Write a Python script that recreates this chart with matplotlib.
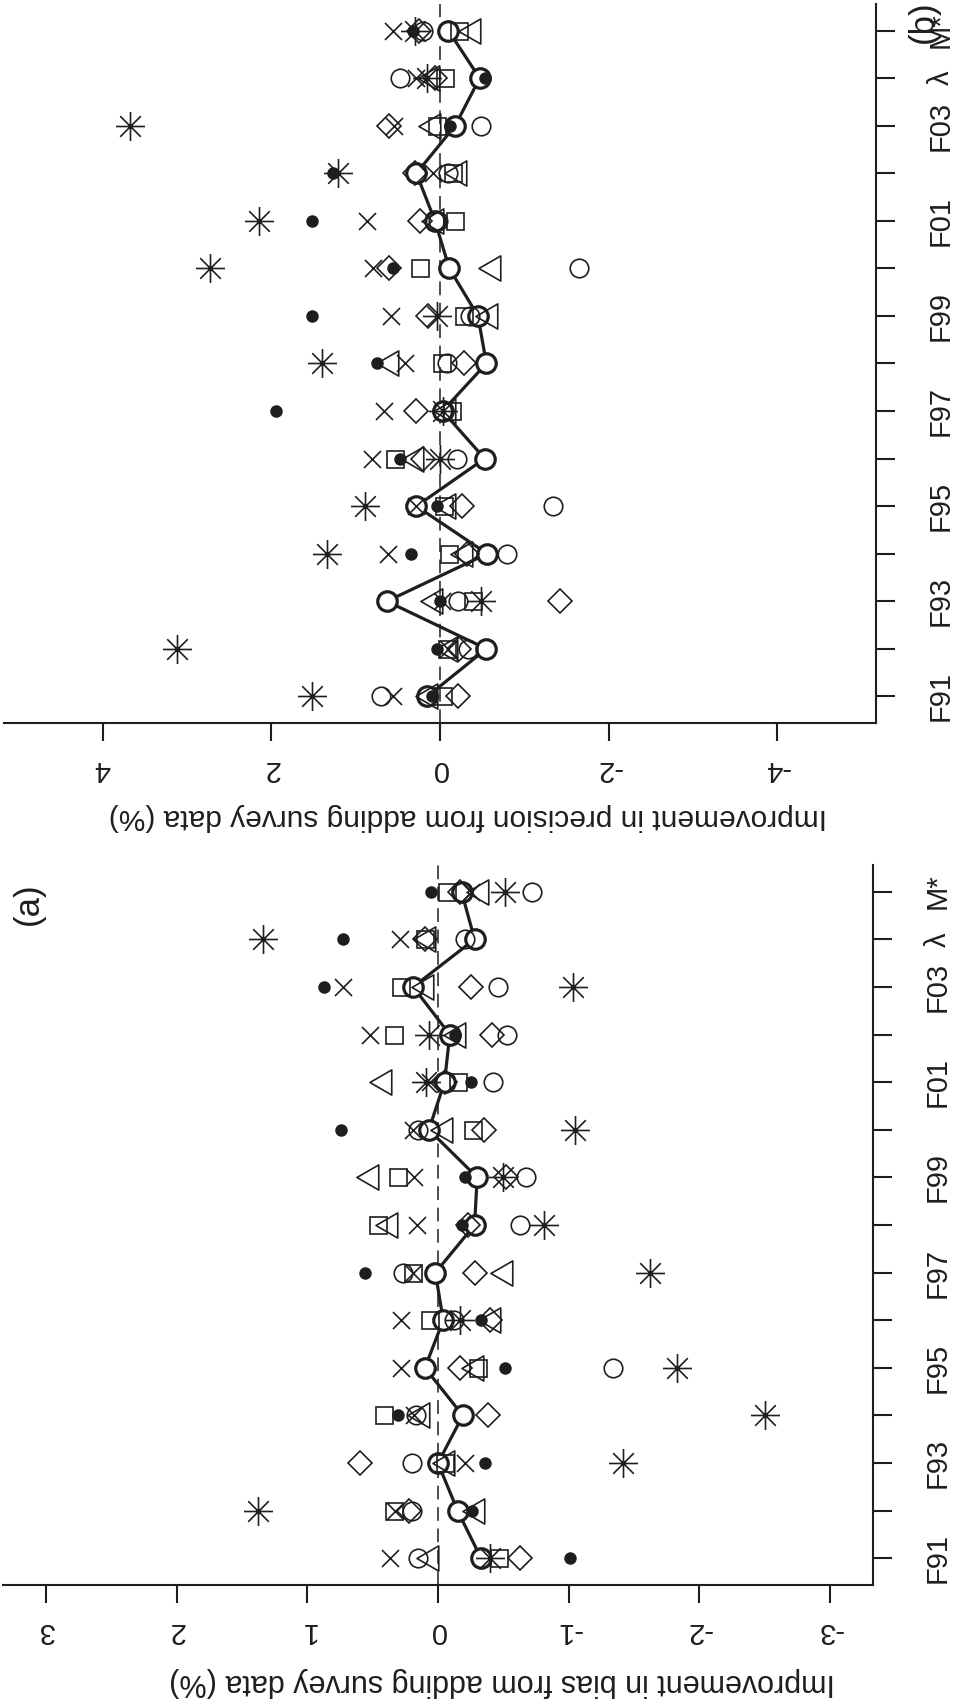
import matplotlib
matplotlib.use("Agg")
import matplotlib.pyplot as plt
from matplotlib.path import Path

plt.rcParams['font.family'] = ['Liberation Sans', 'DejaVu Sans']

# ---- data -------------------------------------------------------------
categories = ["F91", "F92", "F93", "F94", "F95", "F96", "F97", "F98",
              "F99", "F00", "F01", "F02", "F03", "λ", "M*"]
labelled = ["F91", "F93", "F95", "F97", "F99", "F01", "F03", "λ", "M*"]

bias_ticks = [3, 2, 1, 0, -1, -2, -3]
bias_tick_labels = ["3", "2", "1", "0", "-1", "-2", "-3"]
prec_ticks = [4, 2, 0, -2, -4]
prec_tick_labels = ["4", "2", "0", "-2", "-4"]

# (a) improvement in bias (%)
bias_main = [-0.33, -0.15, 0.00, -0.19, 0.10, -0.04, 0.02, -0.28, -0.30, 0.07, -0.05, -0.09, 0.19, -0.28, -0.18]
bias_circle = [0.15, 0.20, 0.20, 0.17, -1.34, -0.12, 0.27, -0.63, -0.67, 0.15, -0.42, -0.53, -0.46, -0.21, -0.72]
bias_dot = [-1.01, -0.26, -0.36, 0.31, -0.51, -0.33, 0.56, -0.18, -0.21, 0.74, -0.25, -0.13, 0.87, 0.73, 0.05]
bias_cross = [0.37, 0.33, -0.21, 0.18, 0.28, 0.28, 0.19, 0.16, 0.18, 0.19, 0.06, 0.52, 0.73, 0.29, -0.25]
bias_square = [-0.47, 0.34, -0.05, 0.41, -0.31, 0.06, 0.19, 0.46, 0.31, -0.27, -0.15, 0.34, 0.28, 0.10, -0.07]
bias_triangle = [0.05, -0.30, -0.07, 0.12, -0.29, -0.42, -0.51, 0.37, 0.51, -0.05, 0.41, -0.15, 0.09, 0.08, -0.33]
bias_diamond = [-0.63, 0.22, 0.60, -0.38, -0.17, -0.40, -0.28, -0.23, -0.52, -0.35, -0.05, -0.41, -0.25, 0.10, -0.17]
bias_star = [-0.40, 1.38, -1.42, -2.50, -1.83, -0.17, -1.62, -0.81, -0.50, -1.05, 0.09, 0.07, -1.03, 1.34, -0.51]

# (b) improvement in precision (%)
prec_main = [0.15, -0.55, 0.63, -0.56, 0.28, -0.53, -0.03, -0.55, -0.45, -0.11, 0.06, 0.28, -0.18, -0.47, -0.10]
prec_circle = [0.70, -0.33, -0.21, -0.79, -1.34, -0.20, -0.02, -0.08, -0.35, -1.65, 0.02, -0.10, -0.49, 0.48, 0.20]
prec_dot = [0.10, 0.04, 0.00, 0.34, 0.04, 0.48, 1.95, 0.75, 1.52, 0.56, 1.52, 1.27, -0.12, -0.53, 0.32]
prec_cross = [0.56, -0.10, -0.02, 0.62, 0.28, 0.81, 0.66, 0.42, 0.58, 0.80, 0.87, 0.08, 0.55, 0.28, 0.56]
prec_square = [-0.04, -0.08, -0.39, -0.11, -0.05, 0.53, -0.14, -0.02, -0.29, 0.24, -0.18, -0.15, 0.04, -0.06, -0.23]
prec_triangle = [0.12, -0.12, 0.06, -0.30, -0.09, 0.28, -0.10, 0.58, -0.59, -0.63, 0.05, -0.22, 0.08, 0.10, -0.39]
prec_diamond = [-0.21, -0.23, -1.42, -0.32, -0.26, 0.20, 0.28, -0.28, 0.14, 0.60, 0.24, 0.30, 0.60, 0.06, 0.25]
prec_star = [1.52, 3.12, -0.49, 1.34, 0.89, 0.00, -0.04, 1.40, 0.04, 2.73, 2.15, 1.21, 3.67, 0.16, 0.30]

# ---- styling ----------------------------------------------------------
INK = "#1e1e1e"
W, H = 955, 1707
PT = 0.72  # points per pixel at dpi 100

tri_left = Path([(-1.555, 0.0), (0.778, 1.347), (0.778, -1.347), (-1.555, 0.0)],
                [Path.MOVETO, Path.LINETO, Path.LINETO, Path.CLOSEPOLY])
a, b = 14.5, 10.3
star = Path([(-a, 0), (a, 0), (0, -a), (0, a), (-b, -b), (b, b), (-b, b), (b, -b)],
            [Path.MOVETO, Path.LINETO] * 4)

marker_styles = {
    "circle": dict(marker="o", ms=18.5 * PT, mfc="none", mew=1.2),
    "dot": dict(marker="o", ms=12.5 * PT, mfc=INK, mew=0),
    "cross": dict(marker="x", ms=17 * PT, mew=1.2),
    "square": dict(marker="s", ms=17 * PT, mfc="none", mew=1.2),
    "triangle": dict(marker=tri_left, ms=29 * PT, mfc="none", mew=1.2),
    "diamond": dict(marker="D", ms=16.3 * PT, mfc="none", mew=1.2),
    "star": dict(marker=star, ms=29 * PT, mfc="none", mew=1.2),
}


def px_axes(fig, x0, y0, x1, y1):
    return fig.add_axes([x0 / W, 1 - y1 / H, (x1 - x0) / W, (y1 - y0) / H])


def draw_panel(ax, lim, ticks, tick_labels, main, others):
    pos = list(range(1, len(categories) + 1))
    ax.set_xlim(lim, -lim)
    ax.set_ylim(0.44, len(categories) + 0.56)
    ax.axvline(0, color=INK, lw=1.1, ls=(0, (9, 5)), zorder=1)
    ax.plot(main, pos, color=INK, lw=2.3, zorder=2, solid_capstyle="butt")
    ax.plot(main, pos, ls="none", marker="o", ms=19.5 * PT, mfc="white",
            mec=INK, mew=2.3, zorder=3)
    for key, vals in others:
        ax.plot(vals, pos, ls="none", color=INK, mec=INK, zorder=4,
                **marker_styles[key])

    for side in ("top", "left"):
        ax.spines[side].set_visible(False)
    for side in ("right", "bottom"):
        ax.spines[side].set_linewidth(1.5)
        ax.spines[side].set_color(INK)

    ax.set_xticks(ticks)
    ax.set_xticklabels(tick_labels, rotation=180)
    ax.yaxis.tick_right()
    ax.set_yticks(pos)
    ax.set_yticklabels([c if c in labelled else "" for c in categories],
                       rotation=90, va="center")
    ax.tick_params(axis="x", direction="out", length=18 * PT, width=1.5,
                   pad=14 * PT, labelsize=21, colors=INK)
    ax.tick_params(axis="y", direction="out", length=19 * PT, width=1.5,
                   pad=32 * PT, labelsize=21, colors=INK)
    ax.set_facecolor("none")


fig = plt.figure(figsize=(W / 100, H / 100), dpi=100)
fig.patch.set_facecolor("white")

ax_b = px_axes(fig, 4, 4, 876, 723)
draw_panel(ax_b, 5.17, prec_ticks, prec_tick_labels, prec_main, [
    ("circle", prec_circle), ("dot", prec_dot), ("cross", prec_cross),
    ("square", prec_square), ("triangle", prec_triangle),
    ("diamond", prec_diamond), ("star", prec_star)])

ax_a = px_axes(fig, 3, 865, 873, 1585)
draw_panel(ax_a, 3.33, bias_ticks, bias_tick_labels, bias_main, [
    ("circle", bias_circle), ("dot", bias_dot), ("cross", bias_cross),
    ("square", bias_square), ("triangle", bias_triangle),
    ("diamond", bias_diamond), ("star", bias_star)])

fig.text(502 / W, 1 - 1682 / H, "Improvement in bias from adding survey data (%)",
         rotation=180, ha="center", va="center", fontsize=22, color=INK)
fig.text(468 / W, 1 - 817 / H, "Improvement in precision from adding survey data (%)",
         rotation=180, ha="center", va="center", fontsize=21.5, color=INK)
fig.text(28 / W, 1 - 904 / H, "(a)", rotation=90, ha="center", va="center",
         fontsize=25, color=INK)
fig.text(923 / W, 1 - 22 / H, "(b)", rotation=90, ha="center", va="center",
         fontsize=25, color=INK)

fig.savefig("out.png", dpi=100, facecolor="white")
